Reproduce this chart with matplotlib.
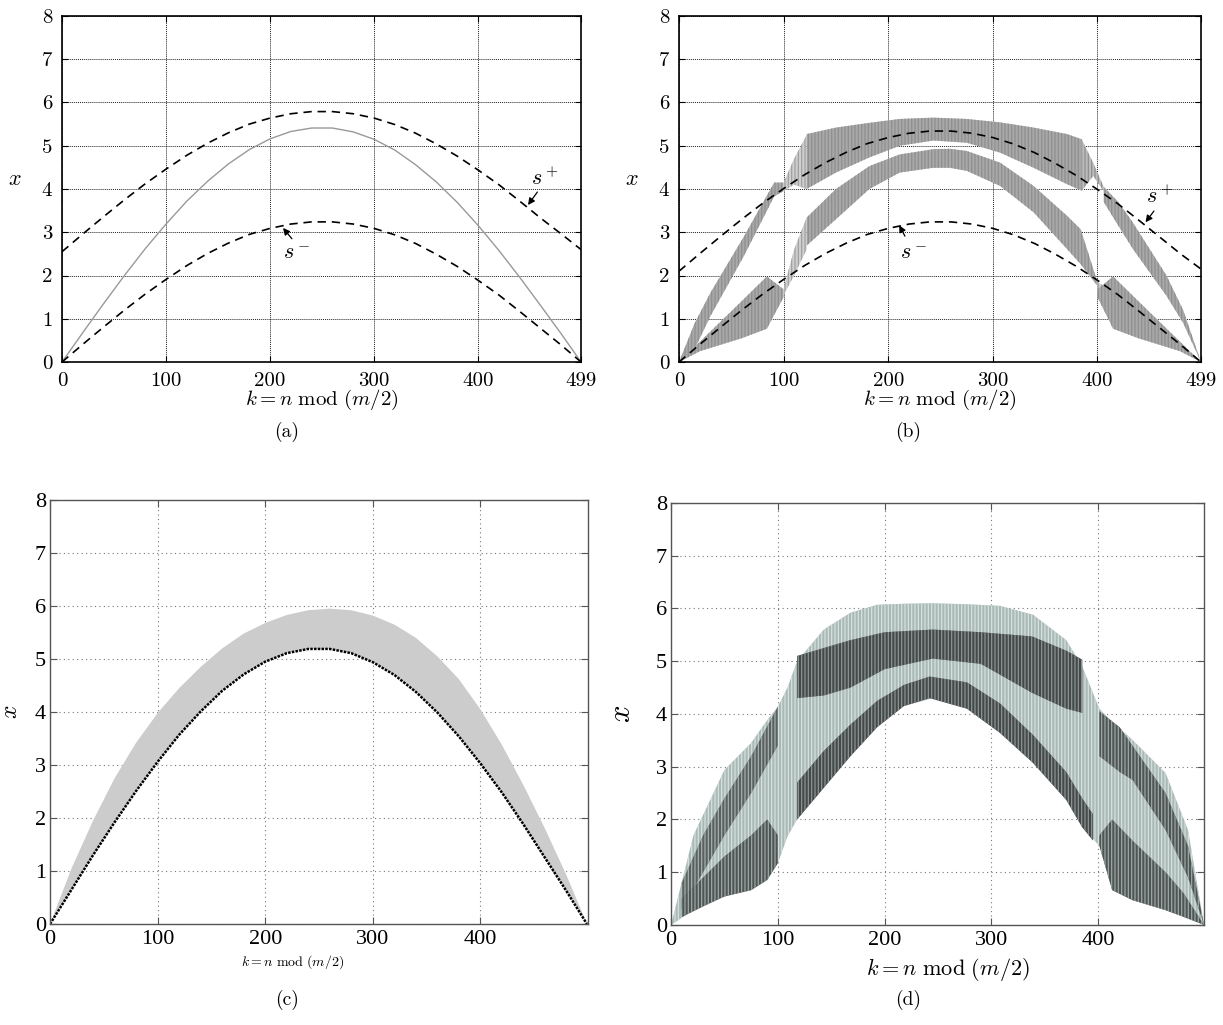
import matplotlib
matplotlib.use('Agg')
import matplotlib.pyplot as plt

plt.rcParams['mathtext.fontset'] = 'cm'
plt.rcParams['hatch.linewidth'] = 0.9

# sample positions k (read every 20 steps)
K = [0, 20, 40, 60, 80, 100, 120, 140, 160, 180, 200, 220, 240,
     260, 280, 300, 320, 340, 360, 380, 400, 420, 440, 460, 480, 499]

# ---- panel (a)
a_splus = [2.55, 2.96, 3.36, 3.75, 4.12, 4.46, 4.78, 5.06, 5.30, 5.50, 5.64, 5.74, 5.79,
           5.79, 5.74, 5.64, 5.49, 5.29, 5.04, 4.76, 4.44, 4.10, 3.72, 3.33, 2.96, 2.60]
a_sminus = [0, 0.41, 0.81, 1.20, 1.57, 1.91, 2.23, 2.51, 2.75, 2.95, 3.09, 3.19, 3.24,
            3.24, 3.19, 3.09, 2.94, 2.74, 2.49, 2.21, 1.89, 1.55, 1.17, 0.78, 0.39, 0]
a_traj = [0, 0.68, 1.35, 2.00, 2.62, 3.19, 3.72, 4.18, 4.58, 4.91, 5.16, 5.33, 5.41,
          5.41, 5.32, 5.15, 4.90, 4.56, 4.16, 3.69, 3.16, 2.58, 1.96, 1.31, 0.65, 0]

# ---- panel (b)
b_splus = [2.10, 2.51, 2.91, 3.30, 3.67, 4.01, 4.33, 4.61, 4.85, 5.05, 5.19, 5.29, 5.34,
           5.34, 5.29, 5.19, 5.04, 4.84, 4.59, 4.31, 3.99, 3.65, 3.27, 2.88, 2.49, 2.15]
b_sminus = a_sminus

# bands: (k, lower, upper)
b_L1_k = [0, 20, 40, 60, 84, 100]
b_L1_lo = [0, 0.25, 0.40, 0.55, 0.77, 1.50]
b_L1_hi = [0, 0.47, 0.94, 1.41, 1.98, 1.68]

b_U1_k = [0, 15, 30, 62, 91, 100]
b_U1_lo = [0, 0.30, 1.06, 2.45, 3.83, 3.95]
b_U1_hi = [0, 0.90, 1.60, 2.90, 4.15, 4.15]

b_T1_k = [100, 110, 122]
b_T1_lo = [3.95, 4.10, 4.00]
b_T1_hi = [4.15, 4.70, 5.25]

b_T2_k = [100, 110, 122]
b_T2_lo = [1.55, 2.00, 2.60]
b_T2_hi = [1.70, 2.60, 3.34]

b_U2_k = [122, 150, 182, 211, 243, 275, 307, 339, 371, 385]
b_U2_lo = [4.00, 4.38, 4.73, 5.00, 5.12, 5.07, 4.84, 4.49, 4.11, 3.96]
b_U2_hi = [5.27, 5.42, 5.53, 5.62, 5.65, 5.62, 5.54, 5.42, 5.27, 5.15]

b_M_k = [122, 150, 182, 211, 243, 259, 275, 307, 339, 371, 384, 400]
b_M_lo = [2.69, 3.30, 4.00, 4.38, 4.49, 4.49, 4.42, 4.07, 3.46, 2.61, 2.26, 1.76]
b_M_hi = [3.34, 4.00, 4.53, 4.80, 4.92, 4.93, 4.88, 4.61, 4.07, 3.38, 3.07, 1.85]

b_T3_k = [385, 396, 406]
b_T3_lo = [3.96, 4.30, 3.95]
b_T3_hi = [5.15, 4.60, 4.05]

b_U3_k = [406, 420, 434, 466, 482, 499]
b_U3_lo = [3.70, 3.15, 2.61, 1.53, 0.90, 0]
b_U3_hi = [4.05, 3.70, 3.22, 2.00, 1.20, 0]

b_T4_k = [400, 410, 419]
b_T4_lo = [1.60, 1.15, 0.90]
b_T4_hi = [1.85, 1.70, 1.85]

b_L2_k = [400, 415, 439, 459, 479, 499]
b_L2_lo = [1.50, 0.77, 0.55, 0.40, 0.25, 0]
b_L2_hi = [1.68, 1.98, 1.41, 0.94, 0.47, 0]

# ---- panel (c)
c_lower = [0, 0.65, 1.30, 1.92, 2.51, 3.06, 3.57, 4.01, 4.40, 4.71, 4.95, 5.11, 5.19,
           5.19, 5.11, 4.94, 4.70, 4.38, 3.99, 3.54, 3.03, 2.48, 1.88, 1.25, 0.62, 0]
c_upper = [0, 1.05, 1.95, 2.75, 3.42, 3.98, 4.45, 4.85, 5.20, 5.48, 5.68, 5.83, 5.92,
           5.95, 5.92, 5.82, 5.65, 5.40, 5.05, 4.62, 4.05, 3.38, 2.62, 1.80, 0.92, 0]

# ---- panel (d)
d_env_k = [0, 21, 50, 75, 87, 100, 109, 118, 143, 168, 193, 218, 245,
           277, 308, 339, 370, 385, 401, 413, 432, 463, 484, 499]
d_env_lo = [0, 0.28, 0.54, 0.66, 0.85, 1.17, 1.68, 2.00, 2.60, 3.20, 3.75, 4.15, 4.30,
            4.10, 3.64, 3.07, 2.37, 1.85, 1.50, 0.66, 0.47, 0.28, 0.15, 0]
d_env_hi = [0, 1.70, 2.94, 3.45, 3.80, 4.14, 4.50, 5.00, 5.60, 5.92, 6.07, 6.09, 6.10,
            6.08, 6.05, 5.88, 5.40, 4.90, 4.10, 3.85, 3.51, 2.88, 1.80, 0]

d_A_k = [10, 30, 50, 75, 100]
d_A_lo = [0.30, 1.00, 1.70, 2.50, 3.40]
d_A_hi = [0.80, 1.70, 2.40, 3.20, 4.14]

d_B_k = [10, 30, 50, 75, 90, 100]
d_B_lo = [0.15, 0.35, 0.54, 0.66, 0.85, 1.17]
d_B_hi = [0.50, 0.90, 1.30, 1.70, 2.00, 1.70]

d_C_k = [118, 143, 168, 200, 245, 290, 338, 370, 385]
d_C_lo = [4.30, 4.35, 4.50, 4.85, 5.05, 4.95, 4.40, 4.10, 4.02]
d_C_hi = [5.10, 5.25, 5.40, 5.55, 5.60, 5.55, 5.47, 5.20, 5.03]

d_D_k = [118, 143, 168, 193, 218, 242, 277, 308, 339, 370, 385, 395]
d_D_lo = [2.00, 2.60, 3.20, 3.75, 4.15, 4.30, 4.10, 3.64, 3.07, 2.37, 1.85, 1.60]
d_D_hi = [2.70, 3.30, 3.80, 4.25, 4.55, 4.71, 4.60, 4.20, 3.60, 2.90, 2.40, 2.10]

d_E_k = [401, 413, 432, 463, 480, 499]
d_E_lo = [1.50, 0.66, 0.47, 0.28, 0.15, 0]
d_E_hi = [1.70, 2.00, 1.60, 1.00, 0.60, 0]

d_F_k = [401, 420, 432, 463, 484, 499]
d_F_lo = [3.20, 2.90, 2.75, 1.80, 0.90, 0]
d_F_hi = [4.05, 3.75, 3.40, 2.50, 1.50, 0]

ab_xticks = [0, 100, 200, 300, 400, 499]
cd_xticks = [0, 100, 200, 300, 400]
yticks = [0, 1, 2, 3, 4, 5, 6, 7, 8]
xlab = r'$k = n\ \mathrm{mod}\ (m/2)$'


def band(ax, k, lo, hi, face, stripe):
    ax.fill_between(k, lo, hi, facecolor=face, edgecolor=stripe,
                    hatch='|||||', linewidth=0)


fig = plt.figure(figsize=(12.23, 10.25), dpi=100)

axa = fig.add_axes([0.0507, 0.6468, 0.4244, 0.3376])
axb = fig.add_axes([0.5552, 0.6468, 0.4268, 0.3376])
axc = fig.add_axes([0.0409, 0.0985, 0.4399, 0.4137])
axd = fig.add_axes([0.5487, 0.0976, 0.4358, 0.4117])

# top row styling
for ax in (axa, axb):
    ax.set_xlim(0, 499)
    ax.set_ylim(0, 8)
    ax.set_xticks(ab_xticks)
    ax.set_yticks(yticks)
    ax.set_axisbelow(True)
    ax.grid(True, color='#222222', linestyle=(0, (1, 1)), linewidth=0.7)
    ax.tick_params(direction='in', top=True, right=True, length=4,
                   labelsize=15, labelfontfamily='cmr10', pad=7)
    for s in ax.spines.values():
        s.set_linewidth(1.2)
    ax.set_xlabel(xlab, fontsize=15)
    ax.xaxis.set_label_coords(0.5, -0.075)
    ax.set_ylabel('$x$', fontsize=16, rotation=0)
    ax.yaxis.set_label_coords(-0.09, 0.5)

# (a)
axa.plot(K, a_traj, color='#999999', linewidth=1.0)
axa.plot(K, a_splus, color='k', linestyle=(0, (5, 3.5)), linewidth=1.2)
axa.plot(K, a_sminus, color='k', linestyle=(0, (5, 3.5)), linewidth=1.2)
axa.annotate('', xy=(448, 3.63), xytext=(457, 3.93),
             arrowprops=dict(arrowstyle='-|>', color='k', lw=0.9,
                             mutation_scale=10, shrinkA=0, shrinkB=0))
axa.text(464, 4.25, '$s^+$', fontsize=16, ha='center', va='center')
axa.annotate('', xy=(212.5, 3.1), xytext=(221, 2.85),
             arrowprops=dict(arrowstyle='-|>', color='k', lw=0.9,
                             mutation_scale=10, shrinkA=0, shrinkB=0))
axa.text(226, 2.52, '$s^-$', fontsize=16, ha='center', va='center')

# (b)
mid_b, dark_b, pale_b = '#a8a8a8', '#8f8f8f', '#cfcfcf'
band(axb, b_L1_k, b_L1_lo, b_L1_hi, mid_b, dark_b)
band(axb, b_U1_k, b_U1_lo, b_U1_hi, mid_b, dark_b)
band(axb, b_T1_k, b_T1_lo, b_T1_hi, pale_b, '#a0a0a0')
band(axb, b_T2_k, b_T2_lo, b_T2_hi, pale_b, '#a0a0a0')
band(axb, b_U2_k, b_U2_lo, b_U2_hi, mid_b, dark_b)
band(axb, b_M_k, b_M_lo, b_M_hi, mid_b, dark_b)
band(axb, b_T3_k, b_T3_lo, b_T3_hi, '#bcbcbc', dark_b)
band(axb, b_U3_k, b_U3_lo, b_U3_hi, mid_b, dark_b)
band(axb, b_T4_k, b_T4_lo, b_T4_hi, pale_b, '#a0a0a0')
band(axb, b_L2_k, b_L2_lo, b_L2_hi, mid_b, dark_b)
axb.plot(K, b_splus, color='k', linestyle=(0, (5, 3.5)), linewidth=1.2)
axb.plot(K, b_sminus, color='k', linestyle=(0, (5, 3.5)), linewidth=1.2)
axb.annotate('', xy=(446, 3.23), xytext=(454, 3.49),
             arrowprops=dict(arrowstyle='-|>', color='k', lw=0.9,
                             mutation_scale=10, shrinkA=0, shrinkB=0))
axb.text(460, 3.84, '$s^+$', fontsize=16, ha='center', va='center')
axb.annotate('', xy=(210.5, 3.16), xytext=(216, 2.91),
             arrowprops=dict(arrowstyle='-|>', color='k', lw=0.9,
                             mutation_scale=10, shrinkA=0, shrinkB=0))
axb.text(224, 2.52, '$s^-$', fontsize=16, ha='center', va='center')

# bottom row styling
for ax in (axc, axd):
    ax.set_xlim(0, 500)
    ax.set_ylim(0, 8)
    ax.set_xticks(cd_xticks)
    ax.set_yticks(yticks)
    ax.set_axisbelow(True)
    ax.grid(True, color='#777777', linestyle=(0, (1, 3)), linewidth=0.8)
    ax.tick_params(direction='in', top=True, right=True, length=5,
                   color='#555555', labelsize=16,
                   labelfontfamily='Liberation Serif', pad=3)
    ax.tick_params(axis='x', pad=4)
    for s in ax.spines.values():
        s.set_color('#555555')
        s.set_linewidth(1.0)
axd.set_xlim(0, 499)

# (c)
axc.fill_between(K, c_lower, c_upper, facecolor='#cccccc', linewidth=0)
axc.plot(K, c_lower, color='k', linewidth=1.8, linestyle=(0, (1, 0.5)))
axc.set_xlabel(xlab, fontsize=10)
axc.xaxis.set_label_coords(0.45, -0.068)
axc.set_ylabel('$x$', fontsize=17)
axc.yaxis.set_label_coords(-0.052, 0.5)

# (d)
band(axd, d_env_k, d_env_lo, d_env_hi, '#a9b9b6', '#d6e0de')
dk_face, dk_line = '#434848', '#8d9493'
band(axd, d_A_k, d_A_lo, d_A_hi, '#5a605f', '#a3b0ae')
band(axd, d_B_k, d_B_lo, d_B_hi, '#505554', '#9aa8a6')
band(axd, d_C_k, d_C_lo, d_C_hi, dk_face, dk_line)
band(axd, d_D_k, d_D_lo, d_D_hi, dk_face, dk_line)
band(axd, d_E_k, d_E_lo, d_E_hi, '#505554', '#9aa8a6')
band(axd, d_F_k, d_F_lo, d_F_hi, '#505554', '#9aa8a6')
axd.set_xlabel(xlab, fontsize=16)
axd.xaxis.set_label_coords(0.52, -0.074)
axd.set_ylabel('$x$', fontsize=22)
axd.yaxis.set_label_coords(-0.066, 0.5)

# captions
for lab, px, py in [('(a)', 287, 432), ('(b)', 908, 432),
                    ('(c)', 287, 1000), ('(d)', 908, 1000)]:
    fig.text(px / 1223, 1 - py / 1025, lab, fontsize=14, fontfamily='cmr10',
             ha='center', va='center')

fig.savefig('out.png', dpi=100)
